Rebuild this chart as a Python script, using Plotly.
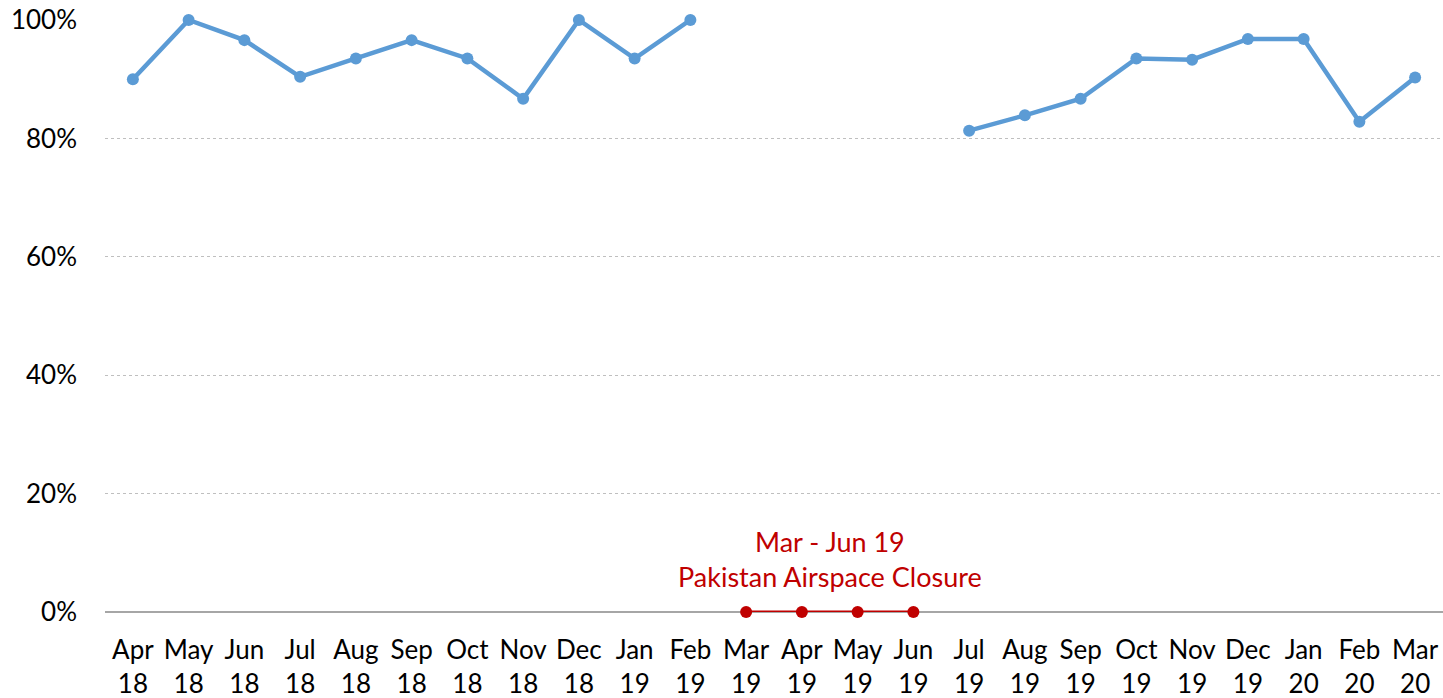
import plotly.graph_objects as go

months = ["Apr<br>18", "May<br>18", "Jun<br>18", "Jul<br>18", "Aug<br>18", "Sep<br>18",
          "Oct<br>18", "Nov<br>18", "Dec<br>18", "Jan<br>19", "Feb<br>19", "Mar<br>19",
          "Apr<br>19", "May<br>19", "Jun<br>19", "Jul<br>19", "Aug<br>19", "Sep<br>19",
          "Oct<br>19", "Nov<br>19", "Dec<br>19", "Jan<br>20", "Feb<br>20", "Mar<br>20"]

on_time = [0.900, 1.000, 0.966, 0.904, 0.935, 0.966, 0.935, 0.867, 1.000, 0.935, 1.000,
           None, None, None, None,
           0.813, 0.839, 0.867, 0.935, 0.933, 0.968, 0.968, 0.828, 0.903]

closure_months = ["Mar<br>19", "Apr<br>19", "May<br>19", "Jun<br>19"]
closure_values = [0, 0, 0, 0]

annotation_text = "Mar - Jun 19<br>Pakistan Airspace Closure"

FONT = "Lato"
BLUE = "#5b9bd5"
RED = "#c00000"

fig = go.Figure()
fig.add_trace(go.Scatter(
    x=months, y=on_time, mode="lines+markers", connectgaps=False,
    line=dict(color=BLUE, width=4.5), marker=dict(color=BLUE, size=12),
    hoverinfo="skip", showlegend=False, cliponaxis=False))
fig.add_trace(go.Scatter(
    x=closure_months, y=closure_values, mode="lines+markers",
    line=dict(color=RED, width=3), marker=dict(color=RED, size=12),
    hoverinfo="skip", showlegend=False, cliponaxis=False))

fig.add_annotation(x=12.5, xref="x", y=0.029, yref="y", text=annotation_text,
                   showarrow=False, font=dict(family=FONT, size=27, color=RED),
                   align="center", yanchor="bottom")

fig.update_layout(
    width=1443, height=698,
    margin=dict(l=105, r=0, t=20, b=86, autoexpand=False),
    paper_bgcolor="white", plot_bgcolor="white",
    font=dict(family=FONT, size=26, color="#000000"),
    xaxis=dict(type="category", categoryorder="array", categoryarray=months,
               showgrid=False, showline=False, ticks="", tickangle=0, automargin=False,
               tickfont=dict(family=FONT, size=26), range=[-0.5, 23.5],
               ticklabelstandoff=20),
    yaxis=dict(range=[0, 1], tickvals=[0, 0.2, 0.4, 0.6, 0.8, 1.0], tickformat=".0%",
               showgrid=True, gridcolor="#bfbfbf", griddash="dot", gridwidth=1,
               zeroline=True, zerolinecolor="#a6a6a6", zerolinewidth=1.5,
               showline=False, ticks="", ticklabelstandoff=27, automargin=False,
               tickfont=dict(family=FONT, size=26)),
)

fig.write_html("out.html", config={"displayModeBar": False},
               post_script="document.body.style.margin='0px';document.body.style.overflow='hidden';")
